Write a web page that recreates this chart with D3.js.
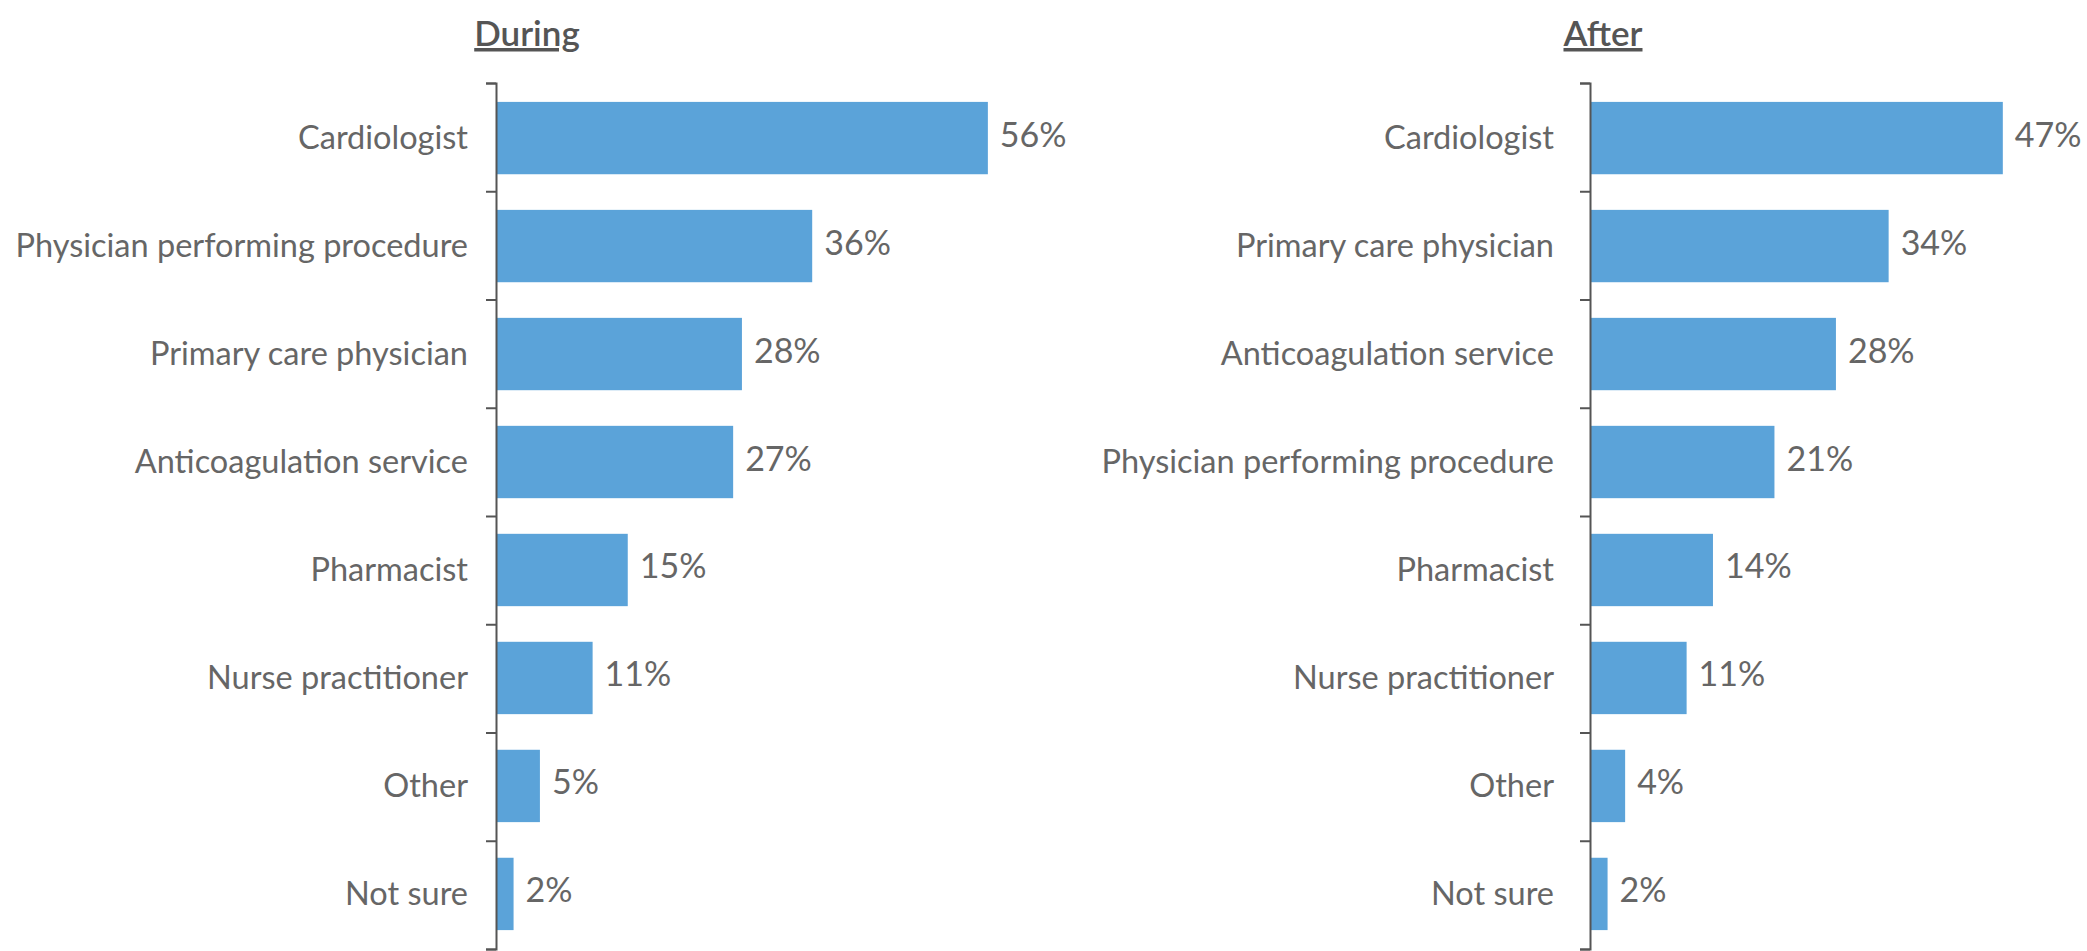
<!DOCTYPE html>
<html>
<head>
<meta charset="utf-8">
<script src="https://cdn.jsdelivr.net/npm/d3@7"></script>
<style>
  html, body { margin: 0; padding: 0; background: #ffffff; }
  svg { display: block; }
</style>
</head>
<body>
<svg id="chart" width="2087" height="951"></svg>
<script>
// Who manages anticoagulation: share of respondents, during vs after the procedure
const duringCategories = ["Cardiologist", "Physician performing procedure", "Primary care physician",
  "Anticoagulation service", "Pharmacist", "Nurse practitioner", "Other", "Not sure"];
const duringValues = [56, 36, 28, 27, 15, 11, 5, 2];

const afterCategories = ["Cardiologist", "Primary care physician", "Anticoagulation service",
  "Physician performing procedure", "Pharmacist", "Nurse practitioner", "Other", "Not sure"];
const afterValues = [47, 34, 28, 21, 14, 11, 4, 2];

const panelTitles = ["During", "After"];

const svg = d3.select("#chart");
const FONT = "Lato, 'Open Sans', sans-serif";
const BAR = "#5ba3d9";
const TEXT = "#666666";

const plotTop = 83, plotBottom = 949;

function panel(title, categories, values, axisX, titleX, labelGap) {
  const g = svg.append("g");

  const x = d3.scaleLinear().domain([0, 60]).range([0, 527]);
  const y = d3.scaleBand().domain(categories).range([plotTop, plotBottom])
    .paddingInner(0.33).paddingOuter(0.175);
  // boundary ticks between bands
  const yIdx = d3.scaleLinear().domain([0, categories.length]).range([plotTop, plotBottom]);

  g.selectAll("rect.bar").data(categories).join("rect")
    .attr("class", "bar")
    .attr("x", axisX)
    .attr("y", d => y(d))
    .attr("width", (d, i) => x(values[i]))
    .attr("height", y.bandwidth())
    .attr("fill", BAR);

  const axis = g.append("g")
    .attr("transform", `translate(${axisX},0)`)
    .call(d3.axisLeft(yIdx).tickValues(d3.range(categories.length + 1))
      .tickFormat("").tickSize(10).tickSizeOuter(10));
  axis.select(".domain").attr("stroke", "#555").attr("stroke-width", 2);
  axis.selectAll(".tick line").attr("stroke", "#555").attr("stroke-width", 2);

  g.selectAll("text.cat").data(categories).join("text")
    .attr("class", "cat")
    .attr("x", axisX - labelGap)
    .attr("y", d => y(d) + y.bandwidth() / 2)
    .attr("dy", "0.35em")
    .attr("text-anchor", "end")
    .attr("font-family", FONT)
    .attr("font-size", 32.5)
    .attr("fill", TEXT)
    .text(d => d);

  g.selectAll("text.val").data(categories).join("text")
    .attr("class", "val")
    .attr("x", (d, i) => axisX + x(values[i]) + 12)
    .attr("y", d => y(d) + y.bandwidth() / 2)
    .attr("dy", "0.25em")
    .attr("font-family", FONT)
    .attr("font-size", 34)
    .attr("fill", TEXT)
    .text((d, i) => values[i] + "%");

  g.append("text")
    .attr("x", titleX)
    .attr("y", 46)
    .attr("text-anchor", "middle")
    .attr("font-family", FONT)
    .attr("font-size", 35)
    .attr("font-weight", 600)
    .attr("fill", "#555")
    .attr("text-decoration", "underline")
    .text(title);
}

panel(panelTitles[0], duringCategories, duringValues, 496, 527, 28);
panel(panelTitles[1], afterCategories, afterValues, 1590, 1603, 36);
</script>
</body>
</html>
